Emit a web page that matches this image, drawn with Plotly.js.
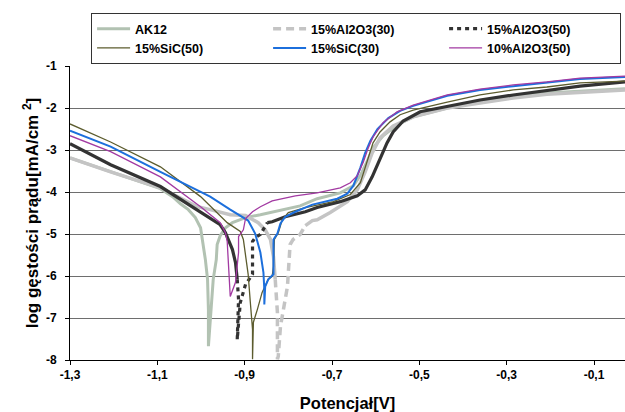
<!DOCTYPE html>
<html>
<head>
<meta charset="utf-8">
<script src="https://cdn.plot.ly/plotly-3.0.1.min.js"></script>
<style>html,body{margin:0;padding:0;background:#fff;}#chart{width:625px;height:412px;}</style>
</head>
<body>
<div id="chart"></div>
<script>
// ---- data ----
var seriesNames = ["AK12", "15%Al2O3(30)", "15%Al2O3(50)", "15%SiC(50)", "15%SiC(30)", "10%Al2O3(50)"];

var ak12_V = [-1.30,-1.207,-1.116,-1.093,-1.065,-1.047,-1.029,-1.013,-1.001,-0.995,-0.990,-0.985,-0.983,-0.983,-0.979,-0.976,-0.972,-0.965,-0.963,-0.956,-0.944,-0.928,-0.898,-0.864,-0.823,-0.773,-0.734,-0.681,-0.651,-0.635,-0.619,-0.606,-0.583,-0.551,-0.514,-0.436,-0.361,-0.285,-0.208,-0.132,-0.029];
var ak12_L = [-3.19,-3.52,-3.83,-3.92,-4.11,-4.28,-4.42,-4.61,-4.85,-5.25,-5.61,-6.08,-6.80,-7.67,-7.03,-6.56,-6.08,-5.61,-5.25,-5.04,-4.85,-4.73,-4.61,-4.54,-4.44,-4.33,-4.16,-4.02,-3.85,-3.61,-3.26,-2.95,-2.66,-2.40,-2.21,-2.00,-1.86,-1.74,-1.64,-1.59,-1.54];

var al30_V = [-1.30,-1.207,-1.093,-1.008,-0.979,-0.933,-0.898,-0.869,-0.853,-0.841,-0.834,-0.830,-0.825,-0.825,-0.823,-0.818,-0.807,-0.802,-0.796,-0.789,-0.773,-0.761,-0.745,-0.734,-0.704,-0.665,-0.642,-0.624,-0.608,-0.590,-0.560,-0.514,-0.436,-0.361,-0.285,-0.208,-0.132,-0.029];
var al30_L = [-3.19,-3.52,-3.90,-4.35,-4.42,-4.54,-4.56,-4.73,-4.90,-5.13,-5.54,-6.08,-6.87,-7.98,-7.91,-7.20,-6.49,-6.25,-5.25,-5.13,-5.01,-4.80,-4.68,-4.66,-4.49,-4.23,-3.95,-3.52,-3.07,-2.71,-2.43,-2.21,-2.00,-1.88,-1.76,-1.67,-1.62,-1.57];

var al50_V = [-1.30,-1.207,-1.093,-1.001,-0.956,-0.944,-0.928,-0.921,-0.917,-0.914,-0.917,-0.910,-0.898,-0.887,-0.882,-0.882,-0.876,-0.864,-0.848,-0.837,-0.807,-0.761,-0.734,-0.681,-0.642,-0.624,-0.608,-0.590,-0.574,-0.560,-0.537,-0.498,-0.436,-0.361,-0.285,-0.208,-0.132,-0.029];
var al50_L = [-2.85,-3.35,-3.87,-4.47,-4.78,-4.97,-5.37,-5.68,-6.08,-6.56,-7.51,-6.63,-6.20,-6.01,-5.96,-5.18,-5.09,-5.01,-4.73,-4.71,-4.59,-4.47,-4.37,-4.23,-4.09,-3.95,-3.64,-3.23,-2.83,-2.57,-2.31,-2.09,-1.97,-1.81,-1.69,-1.59,-1.48,-1.38];

var sic50_V = [-1.30,-1.207,-1.093,-1.001,-0.940,-0.910,-0.903,-0.898,-0.892,-0.887,-0.882,-0.882,-0.880,-0.871,-0.860,-0.846,-0.837,-0.834,-0.832,-0.823,-0.814,-0.800,-0.761,-0.697,-0.658,-0.635,-0.619,-0.606,-0.590,-0.567,-0.544,-0.514,-0.436,-0.361,-0.285,-0.208,-0.132,-0.029];
var sic50_L = [-2.38,-2.81,-3.40,-4.11,-4.73,-4.94,-5.13,-5.54,-5.96,-6.63,-7.27,-7.98,-7.10,-6.80,-6.39,-6.08,-6.01,-5.77,-5.13,-4.97,-4.66,-4.49,-4.37,-4.23,-4.06,-3.78,-3.28,-2.83,-2.57,-2.33,-2.16,-2.05,-1.86,-1.69,-1.57,-1.50,-1.40,-1.36];

var sic30_V = [-1.30,-1.207,-1.093,-1.008,-0.979,-0.933,-0.910,-0.892,-0.876,-0.864,-0.857,-0.855,-0.855,-0.853,-0.846,-0.834,-0.834,-0.825,-0.818,-0.807,-0.784,-0.745,-0.688,-0.665,-0.651,-0.635,-0.624,-0.612,-0.596,-0.571,-0.544,-0.514,-0.436,-0.361,-0.285,-0.208,-0.132,-0.029];
var sic30_L = [-2.54,-2.92,-3.52,-3.95,-4.11,-4.42,-4.56,-4.68,-4.99,-5.44,-5.92,-6.32,-6.68,-6.25,-6.08,-5.96,-5.13,-4.99,-4.75,-4.59,-4.47,-4.30,-4.16,-4.04,-3.85,-3.42,-3.07,-2.78,-2.50,-2.24,-2.07,-1.95,-1.71,-1.57,-1.48,-1.40,-1.31,-1.26];

var al10_V = [-1.30,-1.207,-1.093,-1.001,-0.956,-0.944,-0.940,-0.937,-0.933,-0.921,-0.914,-0.914,-0.903,-0.898,-0.882,-0.864,-0.837,-0.784,-0.734,-0.681,-0.658,-0.642,-0.628,-0.617,-0.606,-0.583,-0.551,-0.514,-0.436,-0.361,-0.285,-0.208,-0.132,-0.029];
var al10_L = [-2.66,-3.04,-3.64,-4.35,-4.73,-4.97,-5.18,-5.68,-6.49,-6.15,-5.44,-5.06,-4.90,-4.63,-4.47,-4.35,-4.21,-4.09,-4.02,-3.90,-3.78,-3.61,-3.28,-2.95,-2.69,-2.35,-2.09,-1.93,-1.69,-1.55,-1.45,-1.38,-1.29,-1.24];

var xTickVals = [-1.3, -1.1, -0.9, -0.7, -0.5, -0.3, -0.1];
var xTickText = ["-1,3", "-1,1", "-0,9", "-0,7", "-0,5", "-0,3", "-0,1"];
var yTickVals = [-1, -2, -3, -4, -5, -6, -7, -8];
var yTickText = ["-1", "-2", "-3", "-4", "-5", "-6", "-7", "-8"];

// index ranges where the original rendering shows dashes (long steep segments)
var al30DashFrom = 11, al30DashTo = 21;
var al50DashFrom = 8, al50DashTo = 18;

// ---- build traces ----
var FONT = "Arial, 'Liberation Sans', sans-serif";
function tr(x, y, name, color, width, dash, showLegend) {
  return {x: x, y: y, type: "scatter", mode: "lines", name: name,
    showlegend: showLegend, hoverinfo: "skip",
    line: {color: color, width: width, dash: dash || "solid"}};
}
var c = {ak: "#b2c2b2", a30: "#c4c4c4", a50: "#333333", s50: "#5c5c2e", s30: "#1c6fdc", a10: "#a23aa2"};

var traces = [
  tr(ak12_V, ak12_L, seriesNames[0], c.ak, 3, "solid", true),
  tr(al30_V.slice(0, al30DashFrom + 1), al30_L.slice(0, al30DashFrom + 1), seriesNames[1], c.a30, 3.5, "solid", false),
  tr(al30_V.slice(al30DashTo), al30_L.slice(al30DashTo), seriesNames[1], c.a30, 3.5, "solid", false),
  tr(al30_V.slice(al30DashFrom, al30DashTo + 1), al30_L.slice(al30DashFrom, al30DashTo + 1), seriesNames[1], c.a30, 3.5, "8px,5px", true),
  tr(al50_V.slice(0, al50DashFrom + 1), al50_L.slice(0, al50DashFrom + 1), seriesNames[2], c.a50, 3.2, "solid", false),
  tr(al50_V.slice(al50DashTo), al50_L.slice(al50DashTo), seriesNames[2], c.a50, 3.2, "solid", false),
  tr(al50_V.slice(al50DashFrom, al50DashTo + 1), al50_L.slice(al50DashFrom, al50DashTo + 1), seriesNames[2], c.a50, 3.2, "4px,4px", true),
  tr(sic50_V, sic50_L, seriesNames[3], c.s50, 1.3, "solid", true),
  tr(sic30_V, sic30_L, seriesNames[4], c.s30, 2, "solid", true),
  tr(al10_V, al10_L, seriesNames[5], c.a10, 1.3, "solid", true)
];

var layout = {
  width: 625, height: 412,
  margin: {l: 70, r: 0, t: 66, b: 52},
  paper_bgcolor: "#ffffff", plot_bgcolor: "#ffffff",
  font: {family: FONT, size: 12, color: "#000"},
  showlegend: true,
  legend: {
    orientation: "h", x: 0.038, xanchor: "left", y: 1.18, yanchor: "top",
    bordercolor: "#333", borderwidth: 1, bgcolor: "#fff",
    entrywidth: 128, entrywidthmode: "pixels", traceorder: "normal", itemwidth: 33,
    font: {family: FONT, size: 12.5, color: "#000", weight: "bold"}
  },
  xaxis: {
    range: [-1.3, -0.029], tickvals: xTickVals, ticktext: xTickText,
    showgrid: false, zeroline: false, showline: true, linecolor: "#000", linewidth: 1,
    ticks: "outside", ticklen: 4, tickcolor: "#000",
    tickfont: {family: FONT, size: 12, color: "#000", weight: "bold"},
    title: {text: "Potencjał[V]", font: {family: FONT, size: 16.5, color: "#000", weight: "bold"}, standoff: 17}
  },
  yaxis: {
    range: [-8, -1], tickvals: yTickVals, ticktext: yTickText,
    showgrid: true, gridcolor: "#6e6e6e", gridwidth: 1,
    zeroline: false, showline: true, linecolor: "#000", linewidth: 1,
    ticks: "outside", ticklen: 4, tickcolor: "#000", ticklabelstandoff: 6,
    tickfont: {family: FONT, size: 12, color: "#000", weight: "bold"},
    title: {text: "log gęstości prądu[mA/cm <sup>2</sup>]", font: {family: FONT, size: 17, color: "#000", weight: "bold"}, standoff: 2}
  },
  hovermode: false
};

Plotly.newPlot("chart", traces, layout, {displayModeBar: false, staticPlot: true});
</script>
</body>
</html>
